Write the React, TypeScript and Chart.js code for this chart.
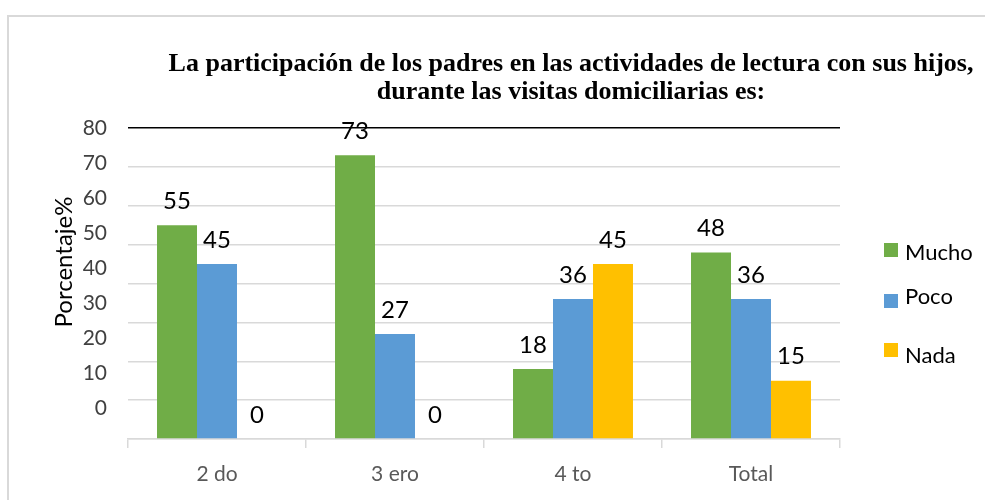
import React, { useEffect, useRef } from "react";
import { Chart, registerables } from "chart.js";

Chart.register(...registerables);

const categories = ["2 do", "3 ero", "4 to", "Total"];
const mucho = [55, 73, 18, 48];
const poco = [45, 27, 36, 36];
const nada = [0, 0, 45, 15];
const seriesNames = ["Mucho", "Poco", "Nada"];
const seriesColors = ["#70AD47", "#5B9BD5", "#FFC000"];
const yTickValues = [0, 10, 20, 30, 40, 50, 60, 70, 80];
const titleLines = [
  "La participación de los padres en las actividades de lectura con sus hijos,",
  "durante las visitas domiciliarias es:",
];
const yAxisTitle = "Porcentaje%";

const framePlugin = {
  id: "frame",
  beforeDraw(chart: any) {
    const ctx = chart.ctx;
    ctx.save();
    ctx.fillStyle = "#ffffff";
    ctx.fillRect(0, 0, chart.width, chart.height);
    ctx.strokeStyle = "#d9d9d9";
    ctx.lineWidth = 2;
    ctx.strokeRect(8, 16, chart.width + 10, chart.height + 10);
    ctx.restore();
  },
};

const titlePlugin = {
  id: "customTitle",
  afterDraw(chart: any) {
    const ctx = chart.ctx;
    ctx.save();
    ctx.fillStyle = "#000000";
    ctx.font = "bold 26px 'Liberation Serif'";
    ctx.textAlign = "center";
    ctx.textBaseline = "alphabetic";
    const cx = 571;
    titleLines.forEach((line, i) => {
      ctx.fillText(line, cx, 71 + i * 28);
    });
    ctx.restore();
  },
};

const axisTitlePlugin = {
  id: "axisTitle",
  afterDraw(chart: any) {
    const ctx = chart.ctx;
    ctx.save();
    ctx.fillStyle = "#000000";
    ctx.font = "24px Lato";
    ctx.textAlign = "center";
    ctx.textBaseline = "middle";
    ctx.translate(64, 262);
    ctx.rotate(-Math.PI / 2);
    ctx.fillText(yAxisTitle, 0, 0);
    ctx.restore();
  },
};

const valueLabelPlugin = {
  id: "valueLabels",
  afterDatasetsDraw(chart: any) {
    const ctx = chart.ctx;
    ctx.save();
    ctx.fillStyle = "#000000";
    ctx.font = "24px Lato";
    ctx.textAlign = "center";
    ctx.textBaseline = "middle";
    chart.data.datasets.forEach((ds: any, i: number) => {
      const meta = chart.getDatasetMeta(i);
      meta.data.forEach((bar: any, j: number) => {
        ctx.fillText(String(ds.data[j]), bar.x, bar.y - 24);
      });
    });
    ctx.restore();
  },
};

const legendPlugin = {
  id: "customLegend",
  afterDraw(chart: any) {
    const ctx = chart.ctx;
    const right = chart.chartArea.right;
    const boxY = [250, 301, 350];
    const textY = [253, 297, 356];
    ctx.save();
    ctx.font = "22px Lato";
    ctx.textAlign = "left";
    ctx.textBaseline = "middle";
    chart.data.datasets.forEach((ds: any, i: number) => {
      ctx.fillStyle = ds.backgroundColor;
      ctx.fillRect(right + 44, boxY[i] - 7, 14, 14);
      ctx.fillStyle = "#000000";
      ctx.fillText(ds.label, right + 65, textY[i]);
    });
    ctx.restore();
  },
};

export default function App() {
  const canvasRef = useRef<HTMLCanvasElement | null>(null);

  useEffect(() => {
    if (!canvasRef.current) return;
    const values = [mucho, poco, nada];
    const chart = new Chart(canvasRef.current, {
      type: "bar",
      data: {
        labels: categories,
        datasets: seriesNames.map((name, i) => ({
          label: name,
          data: values[i],
          backgroundColor: seriesColors[i],
          borderWidth: 0,
          categoryPercentage: 0.674,
          barPercentage: 1,
        })),
      },
      options: {
        responsive: false,
        animation: false,
        layout: { padding: { left: 49, top: 128, right: 145, bottom: 0 } },
        plugins: {
          legend: { display: false },
          title: { display: false },
          tooltip: { enabled: false },
        },
        scales: {
          x: {
            grid: {
              offset: true,
              drawOnChartArea: false,
              drawTicks: true,
              tickLength: 9,
              color: "#d9d9d9",
              lineWidth: 1.5,
            },
            border: { display: true, color: "#d9d9d9", width: 1.5 },
            ticks: {
              font: { family: "Lato", size: 21 },
              color: "#595959",
              padding: 14,
            },
            afterFit: (scale: any) => {
              scale.height = 61;
            },
          },
          y: {
            min: 0,
            max: 80,
            ticks: { display: false, stepSize: 10 },
            border: { display: false },
            grid: {
              drawTicks: false,
              lineWidth: 1.5,
              color: (c: any) => (c.tick && c.tick.value === 80 ? "#000000" : "#d9d9d9"),
            },
            afterFit: (scale: any) => {
              scale.width = 0;
            },
          },
          yl: {
            type: "linear",
            position: "left",
            min: -8.857,
            max: 80,
            grid: { display: false, drawTicks: false },
            border: { display: false },
            afterBuildTicks: (scale: any) => {
              scale.ticks = yTickValues.map((v) => ({ value: v }));
            },
            ticks: {
              font: { family: "Lato", size: 21 },
              color: "#404040",
              padding: 21,
            },
            title: { display: false },
            afterFit: (scale: any) => {
              scale.width = 79;
            },
          },
        },
      } as any,
      plugins: [framePlugin, valueLabelPlugin, titlePlugin, axisTitlePlugin, legendPlugin],
    });
    return () => chart.destroy();
  }, []);

  return (
    <div style={{ position: "absolute", left: 0, top: 0, width: 985, height: 500 }}>
      <canvas ref={canvasRef} width={985} height={500} style={{ display: "block" }} />
    </div>
  );
}
